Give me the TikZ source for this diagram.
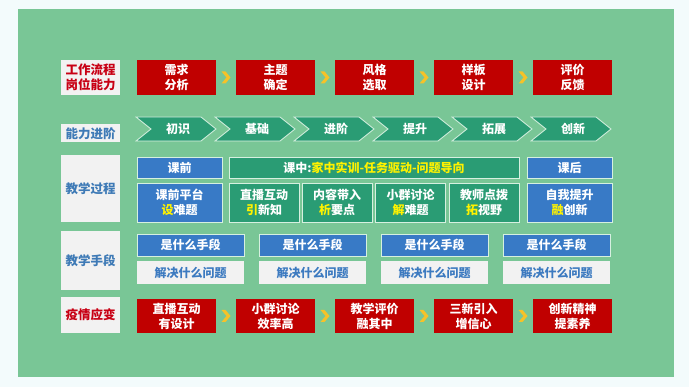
\documentclass[tikz,border=0pt]{standalone}
\usepackage{fontspec}
\setmainfont{Noto Sans CJK SC}
\usetikzlibrary{calc}
\definecolor{bgc}{RGB}{243,251,252}
\definecolor{panel}{RGB}{121,198,150}
\definecolor{cred}{RGB}{192,0,0}
\definecolor{labfill}{RGB}{242,242,242}
\definecolor{labred}{RGB}{200,0,20}
\definecolor{labblue}{RGB}{62,122,182}
\definecolor{cteal}{RGB}{42,156,116}
\definecolor{cblue}{RGB}{56,122,198}
\definecolor{cedge}{RGB}{214,240,224}
\definecolor{cyel}{RGB}{246,194,40}
\definecolor{tyel}{RGB}{255,242,0}
\definecolor{wtext}{RGB}{60,122,192}
\tikzset{
  txt/.style={font=\bfseries\fontsize{12}{15}\selectfont, align=center, inner sep=0pt},
  lab/.style={txt, fill=labfill, minimum width=59pt, font=\bfseries\fontsize{12.5}{15.5}\selectfont},
  redbox/.style={txt, fill=cred, text=white, minimum width=79pt, minimum height=34pt},
  bluebox/.style={txt, fill=cblue, text=white, draw=cedge, line width=0.8pt},
  greenbox/.style={txt, fill=cteal, text=white, draw=cedge, line width=0.8pt},
  whitebox/.style={txt, fill=labfill, text=wtext, minimum width=107pt, minimum height=23pt},
  chevshape/.style={fill=cteal, draw=cedge, line width=0.8pt},
  chevtext/.style={txt, text=white},
  yarrow/.pic={\fill[cyel] (-4.5,-6) -- (-0.5,-6) -- (4.5,0) -- (-0.5,6) -- (-4.5,6) -- (0.5,0) -- cycle;}
}
\begin{document}
\begin{tikzpicture}[x=1pt,y=-1pt]
\useasboundingbox (0,0) rectangle (689,387);
\fill[bgc] (0,0) rectangle (689,387);
\fill[panel] (18,9) rectangle (674,377);

% Row 1
\node[lab, text=labred, minimum height=35pt] (l1) at (90.5,77.5) {工作流程\\岗位能力};
\node[redbox, minimum height=35pt] (a1) at (176.5,77.5) {需求\\分析};
\node[redbox, minimum height=35pt] (a2) at (275.5,77.5) {主题\\确定};
\node[redbox, minimum height=35pt] (a3) at (374.5,77.5) {风格\\选取};
\node[redbox, minimum height=35pt] (a4) at (473.5,77.5) {样板\\设计};
\node[redbox, minimum height=35pt] (a5) at (572.5,77.5) {评价\\反馈};
\pic at ($(a1.east)!0.5!(a2.west)$) {yarrow};
\pic at ($(a2.east)!0.5!(a3.west)$) {yarrow};
\pic at ($(a3.east)!0.5!(a4.west)$) {yarrow};
\pic at ($(a4.east)!0.5!(a5.west)$) {yarrow};

% Row 2
\node[lab, text=labblue, minimum height=18pt] (l2) at (90.5,133.5) {能力进阶};
\foreach \t [count=\i from 0] in {初识,基础,进阶,提升,拓展,创新}{
  \pgfmathsetmacro\xs{136+79*\i}
  \draw[chevshape] (\xs,117) -- ++(65,0) -- ++(15,12) -- ++(-15,12) -- ++(-65,0) -- ++(15,-12) -- cycle;
  \node[chevtext] (c\i) at (\xs+42,129) {\t};
}

% Row 3
\node[lab, text=labblue, minimum height=67pt] (l3) at (90.5,188.5) {教学过程};
\node[bluebox, minimum width=85pt, minimum height=21pt] (pre) at (179.5,167.5) {课前};
\node[greenbox, minimum width=290pt, minimum height=21pt] (mid) at (374,167.5) {课中:\textcolor{tyel}{家中实训-任务驱动-问题导向}};
\node[bluebox, minimum width=85pt, minimum height=21pt] (post) at (569.5,167.5) {课后};
\node[bluebox, minimum width=85pt, minimum height=39pt] (b1) at (179.5,202.5) {课前平台\\\textcolor{tyel}{设}难题};
\node[greenbox, minimum width=70pt, minimum height=39pt] (b2) at (264,202.5) {直播互动\\\textcolor{tyel}{引}新知};
\node[greenbox, minimum width=70pt, minimum height=39pt] (b3) at (337,202.5) {内容带入\\\textcolor{tyel}{析}要点};
\node[greenbox, minimum width=70pt, minimum height=39pt] (b4) at (410.5,202.5) {小群讨论\\\textcolor{tyel}{解}难题};
\node[greenbox, minimum width=70pt, minimum height=39pt] (b5) at (484,202.5) {教师点拨\\\textcolor{tyel}{拓}视野};
\node[bluebox, minimum width=85pt, minimum height=39pt] (b6) at (569.5,202.5) {自我提升\\\textcolor{tyel}{融}创新};

% Row 4
\node[lab, text=labblue, minimum height=59pt] (l4) at (90.5,260.5) {教学手段};
\foreach \i in {0,1,2,3}{
  \pgfmathsetmacro\xc{190.5+122*\i}
  \node[bluebox, minimum width=107pt, minimum height=22pt] (m\i) at (\xc,245) {是什么手段};
  \node[whitebox] (w\i) at (\xc,272.5) {解决什么问题};
}

% Row 5
\node[lab, text=labred, minimum height=36pt] (l5) at (90.5,315) {疫情应变};
\node[redbox] (e1) at (176.5,316) {直播互动\\有设计};
\node[redbox] (e2) at (275.5,316) {小群讨论\\效率高};
\node[redbox] (e3) at (374.5,316) {教学评价\\融其中};
\node[redbox] (e4) at (473.5,316) {三新引入\\增信心};
\node[redbox] (e5) at (572.5,316) {创新精神\\提素养};
\pic at ($(e1.east)!0.5!(e2.west)$) {yarrow};
\pic at ($(e2.east)!0.5!(e3.west)$) {yarrow};
\pic at ($(e3.east)!0.5!(e4.west)$) {yarrow};
\pic at ($(e4.east)!0.5!(e5.west)$) {yarrow};
\end{tikzpicture}
\end{document}
